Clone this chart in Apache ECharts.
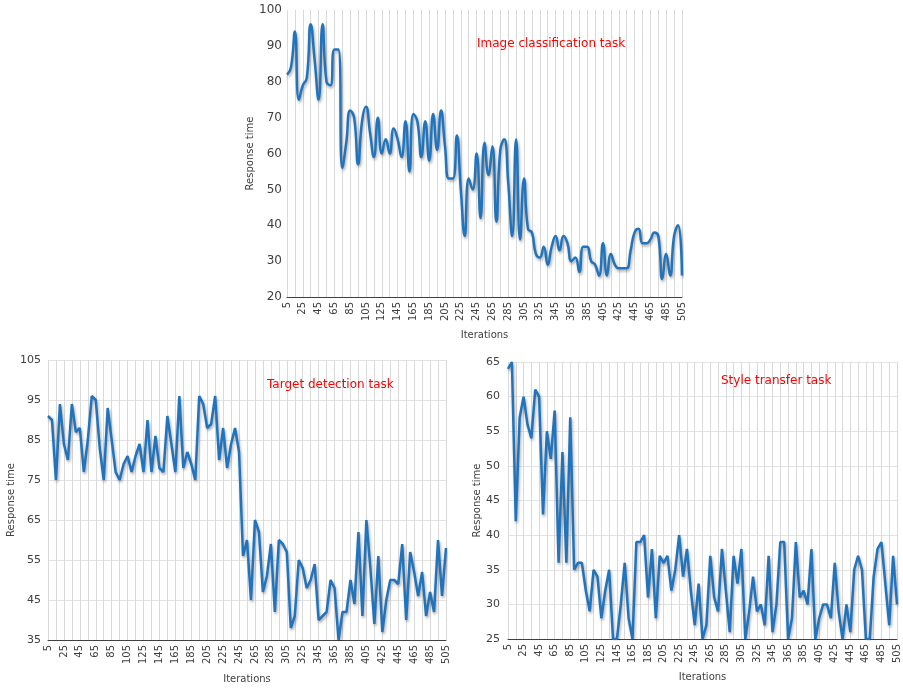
<!DOCTYPE html>
<html>
<head>
<meta charset="utf-8">
<script src="https://cdn.jsdelivr.net/npm/echarts@6/dist/echarts.min.js"></script>
<style>
html,body{margin:0;padding:0;background:#fff;}
#main{width:903px;height:689px;}
</style>
</head>
<body>
<div id="main"></div>
<script>
// Iterations 5, 10, ..., 505
const iterations = [];
for (let v = 5; v <= 505; v += 5) iterations.push(String(v));

const imageClassification = [
  82,84,94,75,79,81,96,86,75,96,
  80,79,89,89,56,63,72,70,57,69,
  73,66,59,70,60,64,60,67,64,59,
  69,55,71,69,59,69,58,71,61,72,
  62,53,53,65,50,37,53,50,60,42,
  63,54,62,41,61,64,52,37,64,36,
  53,39,38,32,31,34,29,34,37,33,
  37,35,30,31,27,34,34,30,29,26,
  35,26,32,29,28,28,28,33,38,39,
  35,35,36,38,37,25,32,26,37,40,
  26
];

const targetDetection = [
  91,90,75,94,84,80,94,87,88,77,
  85,96,95,83,75,93,85,77,75,79,
  81,77,81,84,77,90,77,86,78,77,
  91,84,77,96,78,82,79,75,96,94,
  88,89,96,80,88,78,84,88,82,56,
  60,45,65,62,47,51,59,42,60,59,
  57,38,41,55,53,48,50,54,40,41,
  42,50,48,35,42,42,50,44,62,41,
  65,53,39,56,37,45,50,50,49,59,
  40,57,52,46,52,41,47,42,60,46,
  58
];

const styleTransfer = [
  64,65,42,57,60,56,54,61,60,43,
  55,51,58,36,52,36,57,35,36,36,
  32,29,35,34,28,32,35,25,25,30,
  36,28,25,39,39,40,31,38,28,37,
  36,37,32,35,40,34,38,32,27,33,
  25,27,37,31,29,38,32,26,37,33,
  38,25,29,34,29,30,27,37,26,30,
  39,39,25,28,39,31,32,30,38,25,
  28,30,30,28,36,29,25,30,26,35,
  37,35,25,25,34,38,39,33,27,37,
  30
];

const yTicksImage = [20,30,40,50,60,70,80,90,100];
const yTicksTarget = [35,45,55,65,75,85,95,105];
const yTicksStyle = [25,30,35,40,45,50,55,60,65];

const titles = ['Image classification task', 'Target detection task', 'Style transfer task'];
const xName = 'Iterations';
const yName = 'Response time';

const FONT = 'DejaVu Sans';
const TXT = '#404040';
const LINE = '#1f74bd';

function xAxis(gridIndex, nameGap) {
  return {
    type: 'category', gridIndex: gridIndex, data: iterations, boundaryGap: false,
    axisLine: { show: true, lineStyle: { color: '#404040', width: 1 } },
    axisTick: { show: false },
    axisLabel: { interval: 3, rotate: 90, fontSize: 10, color: TXT, margin: 5, fontFamily: FONT },
    splitLine: { show: true, interval: 1, lineStyle: { color: '#d9d9d9', width: 1 } },
    name: xName, nameLocation: 'middle', nameGap: nameGap,
    nameTextStyle: { fontSize: 10, color: TXT, fontFamily: FONT }
  };
}
function yAxis(gridIndex, ticks, showSplit, fontSize, margin, nameGap) {
  return {
    type: 'value', gridIndex: gridIndex,
    min: ticks[0], max: ticks[ticks.length - 1],
    axisLine: { show: false },
    axisTick: { show: false, customValues: ticks },
    axisLabel: { customValues: ticks, fontSize: fontSize, color: TXT, margin: margin, fontFamily: FONT },
    splitLine: { show: showSplit, lineStyle: { color: '#e3e3e3', width: 1 } },
    name: yName, nameLocation: 'middle', nameGap: nameGap,
    nameTextStyle: { fontSize: 10, color: TXT, fontFamily: FONT }
  };
}
function series(idx, data, smooth) {
  return {
    type: 'line', xAxisIndex: idx, yAxisIndex: idx, data: data,
    smooth: smooth, symbol: 'none',
    lineStyle: { width: 2.5, color: LINE, shadowColor: 'rgba(0,0,0,0.35)', shadowBlur: 3, shadowOffsetX: 1, shadowOffsetY: 2 }
  };
}
function title(text, left, top) {
  return { text: text, left: left, top: top, padding: 0,
    textStyle: { color: '#ff0000', fontSize: 12, fontWeight: 'normal', fontFamily: FONT } };
}

const chart = echarts.init(document.getElementById('main'));
chart.setOption({
  animation: false,
  backgroundColor: '#ffffff',
  title: [
    title(titles[0], 477, 38),
    title(titles[1], 267, 379),
    title(titles[2], 721, 375)
  ],
  grid: [
    { left: 287, right: 221, top: 10, bottom: 392 },
    { left: 48, right: 457, top: 360, bottom: 49 },
    { left: 508, right: 6, top: 362, bottom: 50 }
  ],
  xAxis: [xAxis(0, 33), xAxis(1, 34), xAxis(2, 33)],
  yAxis: [
    yAxis(0, yTicksImage, false, 12, 5, 31),
    yAxis(1, yTicksTarget, true, 11, 7, 29),
    yAxis(2, yTicksStyle, true, 11, 8, 25)
  ],
  series: [
    series(0, imageClassification, true),
    series(1, targetDetection, false),
    series(2, styleTransfer, false)
  ]
});
</script>
</body>
</html>
